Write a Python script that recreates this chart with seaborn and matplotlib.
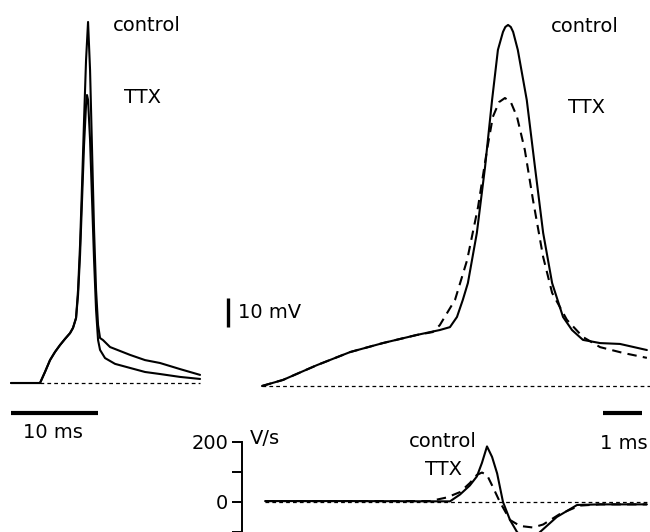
import matplotlib
matplotlib.use("Agg")
import matplotlib.pyplot as plt
import pandas as pd
import seaborn as sns

# left panel: slow sweep (ms, mV above rest)
left_t_control = [-3.33, 0, 0.57, 1.15, 1.72, 2.30, 2.87, 3.45, 3.79, 4.14, 4.37, 4.60, 4.83, 5.06,
                  5.29, 5.52, 5.75, 5.98, 6.21, 6.44, 6.67, 6.90, 7.24, 8.05, 10.34, 12.07, 13.79,
                  16.09, 18.39]
left_v_control = [0, 0, 3.8, 7.9, 10.7, 13.1, 15.2, 17.2, 19.0, 22.4, 32.1, 47.6, 68.3, 90.7,
                  111.4, 124.5, 107.9, 80.3, 52.8, 32.1, 20.0, 15.5, 14.8, 12.4, 9.7, 7.9, 6.9,
                  4.8, 2.8]
left_t_ttx = [-3.33, 0, 0.57, 1.15, 1.72, 2.30, 2.87, 3.45, 3.79, 4.14, 4.37, 4.60, 4.83, 5.06,
              5.29, 5.40, 5.52, 5.75, 5.98, 6.21, 6.44, 6.67, 6.90, 7.47, 8.62, 10.34, 12.07,
              13.79, 16.09, 18.39]
left_v_ttx = [0, 0, 3.8, 7.9, 10.7, 13.1, 15.2, 17.2, 19.0, 22.4, 30.3, 44.1, 63.1, 82.1,
              95.9, 99.3, 97.6, 83.8, 63.1, 42.4, 25.2, 14.8, 11.4, 8.6, 6.6, 5.2, 3.8,
              3.1, 2.1, 1.4]

# right panel: fast sweep
right_t_control = [0, 0.54, 1.41, 2.26, 3.10, 3.97, 4.56, 4.82, 5.00, 5.15, 5.28, 5.51, 5.72,
                   5.90, 6.05, 6.18, 6.24, 6.31, 6.38, 6.44, 6.56, 6.79, 7.00, 7.21, 7.44, 7.72,
                   7.95, 8.23, 8.67, 9.18, 9.87]
right_v_control = [0, 2.1, 7.2, 11.7, 14.8, 17.6, 19.3, 20.3, 23.8, 29.7, 35.5, 52.8, 75.5,
                   98.6, 115.9, 122.1, 123.8, 124.5, 123.8, 122.1, 115.9, 98.6, 75.5, 52.8, 35.5,
                   23.8, 19.3, 15.9, 14.8, 14.5, 12.4]
right_t_ttx = [0, 0.54, 1.41, 2.26, 3.10, 3.97, 4.38, 4.56, 4.95, 5.26, 5.54, 5.77, 5.92, 6.08,
               6.23, 6.38, 6.54, 6.74, 6.95, 7.21, 7.44, 7.82, 8.23, 8.67, 9.26, 9.87]
right_v_ttx = [0, 2.1, 7.2, 11.7, 14.8, 17.6, 18.6, 21.0, 29.7, 43.4, 61.7, 81.4, 92.8, 97.9,
               99.3, 97.9, 92.8, 81.4, 64.1, 44.5, 32.1, 22.8, 16.9, 13.4, 11.4, 9.7]

# bottom panel: dV/dt (V/s)
dvdt_t_control = [0.08, 2.26, 4.82, 5.08, 5.33, 5.51, 5.64, 5.77, 5.90, 6.03, 6.18, 6.36, 6.54,
                  6.74, 6.92, 7.13, 7.56, 8.08, 8.67, 9.87]
dvdt_control = [3, 3, 2, 25, 55, 85, 130, 185, 150, 95, 0, -60, -100, -125, -130, -100, -50,
                -10, -8, -8]
dvdt_t_ttx = [0.08, 2.26, 4.31, 4.74, 5.08, 5.33, 5.51, 5.64, 5.77, 5.92, 6.10, 6.36, 6.62,
              6.95, 7.21, 7.64, 8.15, 8.67, 9.87]
dvdt_ttx = [3, 3, 3, 15, 33, 63, 90, 98, 90, 50, 0, -60, -80, -85, -75, -40, -12, -8, -8]
dvdt_ticks = [-100, 0, 100, 200]
dvdt_ticklabels = ["", "0", "", "200"]

# baselines (start, end of dotted zero line)
left_base = [0, 18.4]
right_base = [0, 9.95]
dvdt_base = [0.08, 9.95]

sns.set_style("white")
plt.rcParams["font.family"] = ["DejaVu Sans"]
plt.rcParams["font.size"] = 14
plt.rcParams["text.color"] = "black"
plt.rcParams["ytick.color"] = "black"

W, H = 650, 532
fig = plt.figure(figsize=(6.5, 5.32), dpi=100)


def px_axes(x0, y0, x1, y1):
    ax = fig.add_axes([x0 / W, 1 - y1 / H, (x1 - x0) / W, (y1 - y0) / H])
    ax.patch.set_alpha(0)
    for s in ax.spines.values():
        s.set_visible(False)
    ax.set_xticks([])
    ax.set_yticks([])
    return ax


solid = dict(color="black", linewidth=1.5, estimator=None, sort=False, legend=False)
dashed = dict(color="black", linewidth=1.5, linestyle=(0, (4.5, 3)), estimator=None,
              sort=False, legend=False)
base_style = dict(color="black", linewidth=0.9, linestyles=(0, (3, 2.5)))

# ---- left panel
ax1 = px_axes(0, 0, 215, 450)
ax1.set_xlim(-4.60, 20.11)
ax1.set_ylim(-23.1, 132.07)
ax1.hlines(0, *left_base, **base_style)
sns.lineplot(x=left_t_control, y=left_v_control, ax=ax1, **solid)
sns.lineplot(x=left_t_ttx, y=left_v_ttx, ax=ax1, **solid)
ax1.text(12.3, 123.4, "control", ha="center", va="center")
ax1.text(11.8, 98.6, "TTX", ha="center", va="center")
ax1.plot([-3.33, 6.67], [-10.3, -10.3], color="black", linewidth=3, solid_capstyle="butt")
ax1.text(1.5, -16.9, "10 ms", ha="center", va="center")

# ---- right panel
ax2 = px_axes(215, 0, 650, 450)
ax2.set_xlim(-1.205, 9.95)
ax2.set_ylim(-22.07, 133.1)
ax2.hlines(0, *right_base, **base_style)
sns.lineplot(x=right_t_control, y=right_v_control, ax=ax2, **solid)
sns.lineplot(x=right_t_ttx, y=right_v_ttx, ax=ax2, **dashed)
ax2.text(8.28, 123.8, "control", ha="center", va="center")
ax2.text(8.31, 96.2, "TTX", ha="center", va="center")
ax2.plot([-0.872, -0.872], [20.3, 30.3], color="black", linewidth=2.4, solid_capstyle="butt",
         clip_on=False)
ax2.text(-0.62, 25.2, "10 mV", ha="left", va="center")
ax2.plot([8.74, 9.74], [-9.3, -9.3], color="black", linewidth=3, solid_capstyle="butt",
         clip_on=False)
ax2.text(9.28, -19.7, "1 ms", ha="center", va="center")

# ---- dV/dt panel
ax3 = px_axes(215, 432, 650, 532)
ax3.set_xlim(-1.205, 9.95)
ax3.set_ylim(-100, 233)
ax3.hlines(0, *dvdt_base, **base_style)
sns.lineplot(x=dvdt_t_control, y=dvdt_control, ax=ax3, **solid)
sns.lineplot(x=dvdt_t_ttx, y=dvdt_ttx, ax=ax3, **dashed)
for ln in ax3.get_lines():
    ln.set_clip_on(False)
ax3.spines["left"].set_visible(True)
ax3.spines["left"].set_position(("data", -0.51))
ax3.spines["left"].set_bounds(-140, 200)
ax3.spines["left"].set_linewidth(1.4)
ax3.spines["left"].set_color("black")
ax3.set_yticks(dvdt_ticks)
ax3.set_yticklabels(dvdt_ticklabels)
ax3.tick_params(axis="y", direction="out", length=7, width=1.4, color="black", pad=3,
                labelsize=14, labelcolor="black", left=True)
ax3.text(-0.31, 213, "V/s", ha="left", va="center")
ax3.text(4.64, 200, "control", ha="center", va="center")
ax3.text(4.66, 107, "TTX", ha="center", va="center")

fig.savefig("out.png", dpi=100)
